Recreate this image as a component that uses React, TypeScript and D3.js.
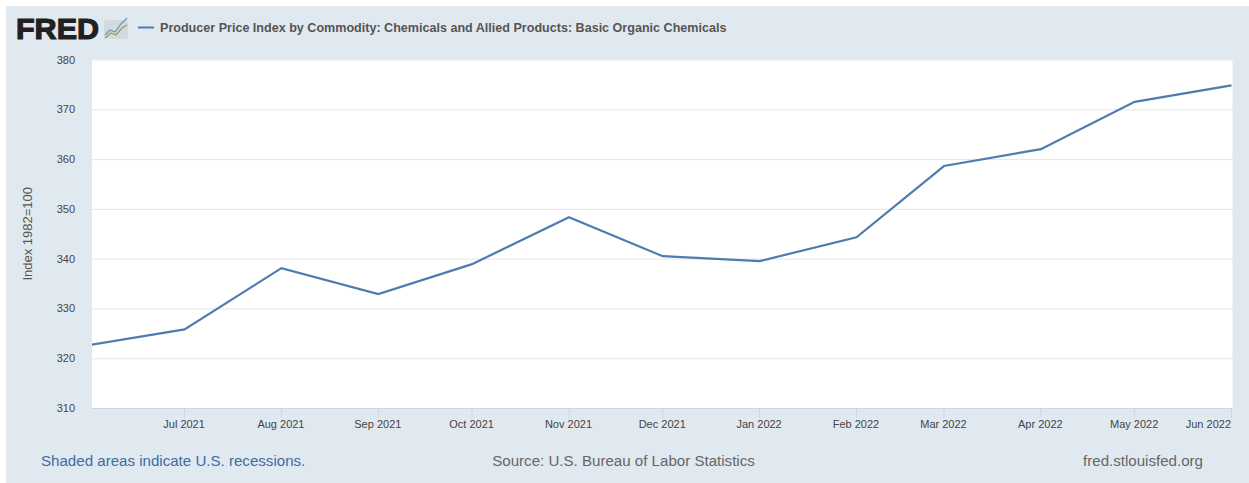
import React, { useEffect, useRef } from "react";
import * as d3 from "d3";

const dates = [
  "2021-06-01", "2021-07-01", "2021-08-01", "2021-09-01", "2021-10-01", "2021-11-01", "2021-12-01",
  "2022-01-01", "2022-02-01", "2022-03-01", "2022-04-01", "2022-05-01", "2022-06-01",
];
const values = [322.7, 325.8, 338.1, 332.9, 338.9, 348.3, 340.5, 339.5, 344.3, 358.6, 362, 371.5, 374.8];
const yTicks = [310, 320, 330, 340, 350, 360, 370, 380];
const tickDates = dates.slice(1);
const seriesTitle = "Producer Price Index by Commodity: Chemicals and Allied Products: Basic Organic Chemicals";
const yTitle = "Index 1982=100";

const width = 1249;
const height = 483;
const plotLeft = 92;
const plotRight = 1232.5;
const plotTop = 59.5;
const plotBottom = 408;
const font = "'Liberation Sans', Arial, sans-serif";

const parse = d3.utcParse("%Y-%m-%d");
const formatMonth = d3.utcFormat("%b %Y");

const App = () => {
  const xAxisRef = useRef<SVGGElement>(null);
  const yAxisRef = useRef<SVGGElement>(null);

  const x = d3
    .scaleUtc()
    .domain([parse(dates[0])!, parse(dates[dates.length - 1])!])
    .range([90.8, 1231.5]);
  const y = d3.scaleLinear().domain([310, 380]).range([plotBottom, plotTop]);

  const line = d3
    .line<number>()
    .x((_, i) => x(parse(dates[i])!))
    .y((d) => y(d));

  useEffect(() => {
    // x axis, ticks sit a touch left of the data points
    const xAxis = d3.select(xAxisRef.current!);
    xAxis.selectAll("*").remove();
    xAxis
      .call(
        d3
          .axisBottom(x)
          .tickValues(tickDates.map((d) => parse(d)!))
          .tickFormat((d) => formatMonth(d as Date))
          .tickSize(10)
          .tickSizeOuter(0),
      )
      .call((g) => g.select(".domain").attr("stroke", "#ccd6eb"))
      .call((g) => g.selectAll(".tick line").attr("stroke", "#ccd6eb").attr("x1", -0.5).attr("x2", -0.5))
      .selectAll("text")
      .attr("x", -1)
      .attr("y", 16)
      .attr("dy", "0.32em")
      .style("font-family", font)
      .style("font-size", "11px")
      .style("fill", "#444444")
      .attr("text-anchor", (_, i) => (i === tickDates.length - 1 ? "end" : "middle"));

    // y axis labels and gridlines
    const yAxis = d3.select(yAxisRef.current!);
    yAxis.selectAll("*").remove();
    yAxis
      .call(
        d3
          .axisLeft(y)
          .tickValues(yTicks)
          .tickSize(0)
          .tickPadding(17),
      )
      .call((g) => g.select(".domain").remove())
      .call((g) =>
        g
          .selectAll(".tick line")
          .attr("x2", plotRight - plotLeft)
          .attr("stroke", "#e6e6e6"),
      )
      .selectAll("text")
      .style("font-family", font)
      .style("font-size", "11px")
      .style("fill", "#444444");
  }, []);

  return (
    <svg
      width={width}
      height={height}
      style={{ position: "absolute", left: 0, top: 0, display: "block" }}
    >
      <rect x={6} y={6} width={width - 6} height={height - 6} fill="#e1e9f0" />
      <rect x={plotLeft} y={plotTop} width={plotRight - plotLeft} height={plotBottom - plotTop} fill="#ffffff" />

      <defs>
        <clipPath id="plot-clip">
          <rect x={plotLeft} y={plotTop} width={plotRight - plotLeft} height={plotBottom - plotTop} />
        </clipPath>
      </defs>

      <g ref={yAxisRef} transform={`translate(${plotLeft},0)`} />
      <g ref={xAxisRef} transform={`translate(0,${plotBottom})`} />

      <path
        d={line(values) ?? ""}
        fill="none"
        stroke="#4f7cb0"
        strokeWidth={2.2}
        clipPath="url(#plot-clip)"
      />

      {/* logo */}
      <text
        x={16}
        y={39}
        fontFamily={font}
        fontWeight={700}
        fontSize={30}
        fill="#231f20"
        stroke="#231f20"
        strokeWidth={1.2}
        textLength={83}
        lengthAdjust="spacingAndGlyphs"
      >
        FRED
      </text>
      <rect x={104} y={20} width={24} height={19} rx={2} fill="#d3d9df" />
      <path d="M105 35 L110 30 L115 32 L121 24 L127 18" fill="none" stroke="#6a96c4" strokeWidth={1.2} />
      <path d="M105 38 L111 33 L116 35 L122 28 L127 25" fill="none" stroke="#7fa650" strokeWidth={1.2} />

      {/* legend */}
      <line x1={138} x2={154} y1={27.5} y2={27.5} stroke="#4f7cb0" strokeWidth={2} />
      <text x={160} y={31.5} fontFamily={font} fontWeight={700} fontSize={12.57} fill="#555555">
        {seriesTitle}
      </text>

      <text
        transform={`translate(31.5,${(plotTop + plotBottom) / 2}) rotate(-90)`}
        textAnchor="middle"
        fontFamily={font}
        fontSize={13}
        fill="#555555"
      >
        {yTitle}
      </text>

      {/* footer */}
      <text x={41} y={466} fontFamily={font} fontSize={15.1} fill="#3e6ba5">
        Shaded areas indicate U.S. recessions.
      </text>
      <text x={623.5} y={466} textAnchor="middle" fontFamily={font} fontSize={15.1} fill="#666666">
        Source: U.S. Bureau of Labor Statistics
      </text>
      <text x={1203} y={466} textAnchor="end" fontFamily={font} fontSize={15.1} fill="#666666">
        fred.stlouisfed.org
      </text>
    </svg>
  );
};

export default App;
